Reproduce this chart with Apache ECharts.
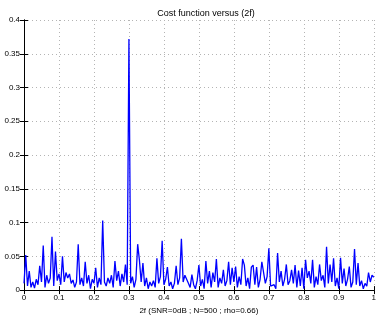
<!DOCTYPE html>
<html>
<head>
<meta charset="utf-8">
<script src="https://cdn.jsdelivr.net/npm/echarts@6/dist/echarts.min.js"></script>
<style>
  html, body { margin: 0; padding: 0; background: #fff; }
  #chart { width: 379px; height: 320px; }
</style>
</head>
<body>
<div id="chart"></div>
<script>
// sampling grid of the (2f) axis
const freqStart = 0
const freqStep = 0.005

// cost function, one value per grid step
const cost = [
  0.010, 0.052, 0.006, 0.028, 0.004, 0.012, 0.003, 0.016, 0.008, 0.036,
  0.012, 0.066, 0.004, 0.022, 0.010, 0.018, 0.079, 0.006, 0.057, 0.014,
  0.024, 0.008, 0.050, 0.012, 0.026, 0.018, 0.024, 0.010, 0.015, 0.004,
  0.012, 0.068, 0.008, 0.018, 0.006, 0.042, 0.010, 0.022, 0.002, 0.016,
  0.010, 0.033, 0.004, 0.018, 0.008, 0.103, 0.012, 0.006, 0.018, 0.010,
  0.022, 0.004, 0.043, 0.014, 0.028, 0.006, 0.024, 0.012, 0.038, 0.008,
  0.372, 0.010, 0.020, 0.004, 0.016, 0.068, 0.044, 0.012, 0.040, 0.006,
  0.018, 0.002, 0.012, 0.006, 0.014, 0.004, 0.047, 0.010, 0.020, 0.073,
  0.008, 0.016, 0.034, 0.006, 0.012, 0.002, 0.010, 0.036, 0.008, 0.018,
  0.076, 0.012, 0.022, 0.020, 0.010, 0.004, 0.023, 0.008, 0.002, 0.014,
  0.037, 0.006, 0.016, 0.002, 0.043, 0.010, 0.028, 0.004, 0.026, 0.012,
  0.046, 0.004, 0.018, 0.010, 0.030, 0.006, 0.014, 0.042, 0.008, 0.033,
  0.012, 0.035, 0.004, 0.020, 0.008, 0.046, 0.037, 0.006, 0.018, 0.002,
  0.034, 0.037, 0.008, 0.034, 0.004, 0.016, 0.042, 0.040, 0.010, 0.020,
  0.062, 0.006, 0.004, 0.008, 0.002, 0.055, 0.012, 0.028, 0.006, 0.016,
  0.038, 0.008, 0.014, 0.030, 0.010, 0.037, 0.004, 0.029, 0.006, 0.033,
  0.002, 0.045, 0.018, 0.028, 0.010, 0.045, 0.004, 0.020, 0.008, 0.038,
  0.014, 0.022, 0.004, 0.064, 0.010, 0.038, 0.012, 0.047, 0.006, 0.018,
  0.002, 0.048, 0.010, 0.032, 0.006, 0.016, 0.035, 0.004, 0.012, 0.061,
  0.008, 0.040, 0.006, 0.014, 0.002, 0.010, 0.006, 0.026, 0.012, 0.022,
  0.019
]

const titleText = 'Cost function versus (2f)'
const xName = '2f (SNR=0dB ; N=500 ; rho=0.66)'

const points = cost.map((v, i) => [+(freqStart + i * freqStep).toFixed(3), v])

const font = 'Liberation Sans, Arial, Helvetica, sans-serif'
const gridLine = { show: true, lineStyle: { color: '#b4b4b4', type: [1, 3], width: 1 } }
const tickIn = { show: true, inside: true, length: 4, lineStyle: { color: '#000' } }
const axisBlack = { show: true, lineStyle: { color: '#000', width: 1 } }

const chart = echarts.init(document.getElementById('chart'))

chart.setOption({
  backgroundColor: '#fff',
  animation: false,
  title: {
    text: titleText,
    left: 201,
    textAlign: 'center',
    top: 4,
    textStyle: { fontFamily: font, fontSize: 9, fontWeight: 'normal', color: '#000' }
  },
  grid: { left: 24, right: 1.5, top: 20, bottom: 20.5, containLabel: false },
  xAxis: [
    {
      type: 'value', min: 0, max: 1, interval: 0.1, position: 'bottom',
      axisLine: axisBlack, axisTick: tickIn, splitLine: gridLine,
      axisLabel: { fontFamily: font, fontSize: 8, color: '#000', margin: 4 },
      name: xName, nameLocation: 'middle', nameGap: 13,
      nameTextStyle: { fontFamily: font, fontSize: 8, color: '#000' }
    },
    {
      type: 'value', min: 0, max: 1, interval: 0.1, position: 'top',
      axisLine: axisBlack, axisTick: tickIn, splitLine: { show: false },
      axisLabel: { show: false }
    }
  ],
  yAxis: [
    {
      type: 'value', min: 0, max: 0.4, interval: 0.05, position: 'left',
      axisLine: axisBlack, axisTick: tickIn, splitLine: gridLine,
      axisLabel: { fontFamily: font, fontSize: 8, color: '#000', margin: 4 }
    },
    {
      type: 'value', min: 0, max: 0.4, interval: 0.05, position: 'right',
      axisLine: axisBlack, axisTick: tickIn, splitLine: { show: false },
      axisLabel: { show: false }
    }
  ],
  series: [
    {
      type: 'line',
      data: points,
      showSymbol: false,
      lineStyle: { color: '#0000ff', width: 1.3 },
      itemStyle: { color: '#0000ff' }
    }
  ]
})
</script>
</body>
</html>
